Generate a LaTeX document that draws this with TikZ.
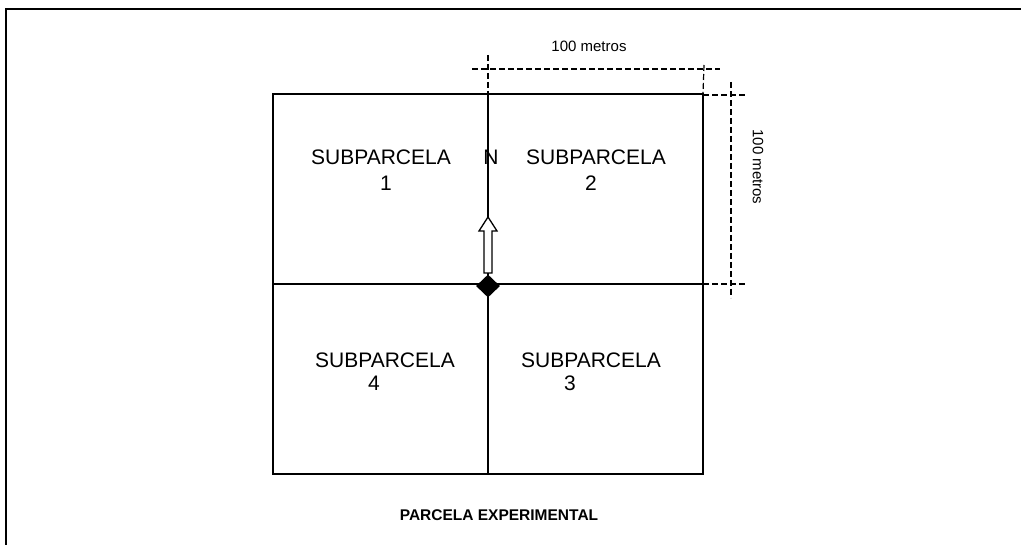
\documentclass[tikz,border=0pt]{standalone}
\usepackage{fontspec}
\setmainfont{Liberation Sans}
\usetikzlibrary{positioning,shapes.geometric}

\tikzset{
  plotline/.style={line width=1.5pt},
  dimline/.style={line width=1.2pt,dash pattern=on 6pt off 3pt},
  sublabel/.style={font=\fontsize{21}{25}\selectfont,inner sep=0pt},
  dimlabel/.style={font=\fontsize{15}{18}\selectfont,inner sep=0pt}
}

\begin{document}
\begin{tikzpicture}[x=1pt,y=-1pt]
\useasboundingbox (0,0) rectangle (1021,545);
% outer frame
\draw[line width=2pt] (6,545) -- (6,9) -- (1021,9);
% corners of the plot
\coordinate (nw) at (273,94);
\coordinate (ne) at (703,94);
\coordinate (sw) at (273,474);
\coordinate (se) at (703,474);
\coordinate (wmid) at (273,284);
\coordinate (emid) at (703,284);
\coordinate (nmid) at (488,94);
\coordinate (smid) at (488,474);
\draw[plotline] (nw) -- (ne) -- (se) -- (sw) -- cycle;
\draw[plotline] (wmid) -- (emid);
\draw[plotline] (nmid) -- (smid);
% centre mark and north arrow
\node[diamond,fill=black,inner sep=0pt,minimum width=24pt,minimum height=23pt] (centre) at (488,286) {};
\draw[line width=1.3pt,fill=white] (484,273) -- (484,231) -- (479,231) -- (488,217) -- (497,231) -- (492,231) -- (492,273) -- cycle;
% dimensions
\coordinate (ttop) at (488,55);
\coordinate (tl) at (472,69);
\coordinate (tr) at (720,69);
\coordinate (ttick) at (704,65);
\coordinate (rtop) at (731,82);
\coordinate (rbot) at (731,298);
\coordinate (rt) at (745,95);
\coordinate (rb) at (745,284);
\draw[dimline] (ttop) -- (nmid);
\draw[dimline] (tl) -- (tr);
\draw[dimline] (ttick) -- (ne);
\draw[dimline] (rtop) -- (rbot);
\draw[dimline] (703,95) -- (rt);
\draw[dimline] (emid) -- (rb);
\node[dimlabel] (topdim) at (589,46) {100 metros};
\node[dimlabel,rotate=-90] (rightdim) at (758,167) {100 metros};
% sub-plot labels
\node[sublabel] (sp1) at (381,157) {SUBPARCELA};
\node[sublabel] (n1) at (386,183) {1};
\node[sublabel] (north) at (491,157) {N};
\node[sublabel] (sp2) at (596,157) {SUBPARCELA};
\node[sublabel] (n2) at (591,183) {2};
\node[sublabel] (sp4) at (385,360) {SUBPARCELA};
\node[sublabel] (n4) at (374,383) {4};
\node[sublabel] (sp3) at (591,360) {SUBPARCELA};
\node[sublabel] (n3) at (570,383) {3};
\node[font=\bfseries\fontsize{15.5}{18}\selectfont,inner sep=0pt] (title) at (499,515) {PARCELA EXPERIMENTAL};
\end{tikzpicture}
\end{document}
